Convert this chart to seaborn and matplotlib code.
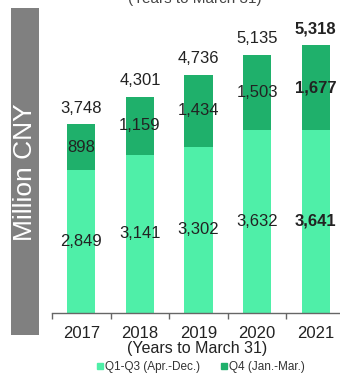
import matplotlib
matplotlib.use("Agg")
import matplotlib.pyplot as plt
from matplotlib.patches import Rectangle
from matplotlib.lines import Line2D
import seaborn as sns
import pandas as pd

sns.set_theme(style="white")
plt.rcParams["font.family"] = ["Liberation Sans", "DejaVu Sans"]

years = ["2017", "2018", "2019", "2020", "2021"]
q1_q3 = [2849, 3141, 3302, 3632, 3641]
q4 = [898, 1159, 1434, 1503, 1677]
totals = [3748, 4301, 4736, 5135, 5318]
series_names = ["Q1-Q3 (Apr.-Dec.)", "Q4 (Jan.-Mar.)"]

light = "#4FEFA8"
dark = "#1FB06B"
text_col = "#222222"

df = pd.DataFrame({"year": years, "q1_q3": q1_q3, "q4": q4, "total": totals})

fig = plt.figure(figsize=(3.4, 3.77), dpi=100)
ax = fig.add_axes([52 / 340, 64 / 377, 293 / 340, 302 / 377])

# stacked bars: full-year total in dark, Q1-Q3 drawn over it
sns.barplot(data=df, x="year", y="total", color=dark, width=0.48,
            saturation=1, ax=ax, order=years, linewidth=0)
sns.barplot(data=df, x="year", y="q1_q3", color=light, width=0.48,
            saturation=1, ax=ax, order=years, linewidth=0)

ax.set_ylim(0, 6000)
ax.set_xlim(-0.5, 4.5)
ax.set_xlabel("")
ax.set_ylabel("")
ax.set_yticks([])
for s in ["top", "right", "left"]:
    ax.spines[s].set_visible(False)
ax.spines["bottom"].set_color("#666666")
ax.spines["bottom"].set_linewidth(1.0)

ax.tick_params(axis="x", which="major", length=0, pad=9, labelsize=12,
               labelcolor=text_col)
ax.set_xticks(range(len(years)))
ax.set_xticklabels(years)
ax.set_xticks([i - 0.5 for i in range(len(years) + 1)], minor=True)
ax.tick_params(axis="x", which="minor", length=4, width=1.0, color="#666666",
               direction="out", bottom=True)

for i, (a, b, t) in enumerate(zip(q1_q3, q4, totals)):
    w = "bold" if i == len(years) - 1 else "normal"
    ax.text(i, a / 2, f"{a:,}", ha="center", va="center", fontsize=12,
            color=text_col, fontweight=w)
    ax.text(i, a + b / 2, f"{b:,}", ha="center", va="center", fontsize=12,
            color=text_col, fontweight=w)
    ax.annotate(f"{t:,}", (i, t), xytext=(0, 6), textcoords="offset points",
                ha="center", va="bottom", fontsize=12, color=text_col,
                fontweight=w)

# vertical unit banner on the left
fig.patches.append(Rectangle((11 / 340, 42 / 377), 28 / 340, 327 / 377,
                             transform=fig.transFigure, facecolor="#808080",
                             edgecolor="none"))
fig.text(25 / 340, 205 / 377, "Million CNY", rotation=90, ha="center",
         va="center", color="white", fontsize=19)

fig.text(195 / 340, 1.003, "(Years to March 31)", ha="center", va="center",
         color="#444444", fontsize=11)
fig.text(197 / 340, 28 / 377, "(Years to March 31)", ha="center",
         va="center", color=text_col, fontsize=11.5)

handles = [Line2D([], [], marker="s", linestyle="none", markersize=4,
                  markerfacecolor=c, markeredgecolor=c) for c in (light, dark)]
fig.legend(handles, series_names, loc="center", ncol=2,
           bbox_to_anchor=(200 / 340, 10 / 377), frameon=False, fontsize=8.5,
           handletextpad=0.05, columnspacing=1.6, labelcolor="#333333",
           handlelength=0.8)

fig.savefig("out.png", dpi=100)
